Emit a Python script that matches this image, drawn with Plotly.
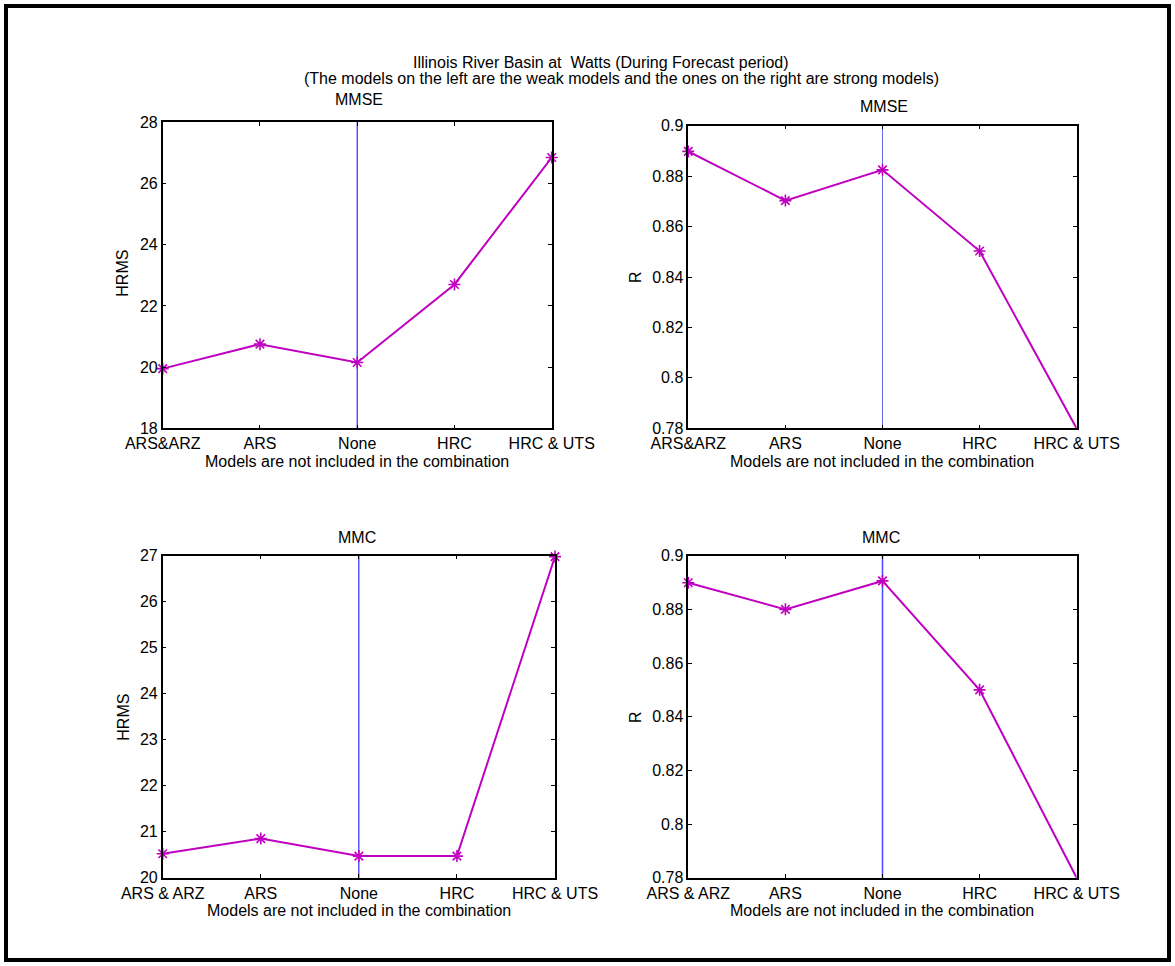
import plotly.graph_objects as go

W, H = 1175, 966

# ---- data ----
cats_top = ["ARS&ARZ", "ARS", "None", "HRC", "HRC & UTS"]
cats_bottom = ["ARS & ARZ", "ARS", "None", "HRC", "HRC & UTS"]
mmse_hrms = [19.95, 20.75, 20.15, 22.70, 26.85]
mmse_r = [0.8898, 0.8703, 0.8825, 0.8503, 0.7799]
mmc_hrms = [20.52, 20.85, 20.47, 20.47, 26.98]
mmc_r = [0.8899, 0.8800, 0.8906, 0.8500, 0.7799]

hrms_top_ticks = [18, 20, 22, 24, 26, 28]
hrms_bottom_ticks = [20, 21, 22, 23, 24, 25, 26, 27]
r_ticks = [0.78, 0.8, 0.82, 0.84, 0.86, 0.88, 0.9]
r_ticktext = ["0.78", "0.8", "0.82", "0.84", "0.86", "0.88", "0.9"]

title1 = "Illinois River Basin at  Watts (During Forecast period)"
title2 = "(The models on the left are the weak models and the ones on the right are strong models)"
xlab = "Models are not included in the combination"

FONT = "Liberation Sans, Arial, Helvetica, sans-serif"
FS = 16
MAG = "#c000c0"

def px(x):
    return x / W

def py(y):
    return 1 - y / H

# panel boxes in pixels: (left, top, right, bottom)
panels = [
    dict(box=(162.7, 122.3, 551.7, 428.3), cats=cats_top, vals=mmse_hrms,
         yr=[18, 28], tv=hrms_top_ticks, tt=[str(t) for t in hrms_top_ticks],
         title="MMSE", tpos=(359, 99), ylab="HRMS", ylpos=(122.7, 273), xlpos=(357, 461),
         vcol="#0000ff", vw=1),
    dict(box=(688.3, 125.7, 1076.7, 428.3), cats=cats_top, vals=mmse_r,
         yr=[0.78, 0.9], tv=r_ticks, tt=r_ticktext,
         title="MMSE", tpos=(884, 107), ylab="R", ylpos=(635, 277), xlpos=(882, 461),
         vcol="#6a6ae6", vw=1),
    dict(box=(162.7, 555.7, 555.0, 877.7), cats=cats_bottom, vals=mmc_hrms,
         yr=[20, 27], tv=hrms_bottom_ticks, tt=[str(t) for t in hrms_bottom_ticks],
         title="MMC", tpos=(357, 537), ylab="HRMS", ylpos=(122.7, 717), xlpos=(359, 910),
         vcol="#0000ff", vw=1),
    dict(box=(688.3, 555.7, 1076.7, 877.7), cats=cats_bottom, vals=mmc_r,
         yr=[0.78, 0.9], tv=r_ticks, tt=r_ticktext,
         title="MMC", tpos=(881, 537), ylab="R", ylpos=(635, 717), xlpos=(882, 910),
         vcol="#4a4aff", vw=1.5),
]

fig = go.Figure()
annotations = []
shapes = []

for i, p in enumerate(panels, start=1):
    l, t, r, b = p["box"]
    xa = "xaxis" if i == 1 else f"xaxis{i}"
    ya = "yaxis" if i == 1 else f"yaxis{i}"
    xref = "x" if i == 1 else f"x{i}"
    yref = "y" if i == 1 else f"y{i}"
    xs = list(range(1, len(p["cats"]) + 1))

    # vertical reference line at "None"
    none_x = p["cats"].index("None") + 1
    shapes.append(dict(type="line", xref=xref, yref=f"{yref} domain",
                       x0=none_x, x1=none_x, y0=0, y1=1,
                       line=dict(color=p["vcol"], width=p["vw"]), layer="below"))

    fig.add_trace(go.Scatter(
        x=xs, y=p["vals"], xaxis=xref, yaxis=yref, mode="lines+markers",
        line=dict(color=MAG, width=2),
        marker=dict(symbol="asterisk-open", size=10, color=MAG,
                    line=dict(color=MAG, width=1.6)),
        cliponaxis=False, showlegend=False, hoverinfo="x+y"))

    axcommon = dict(showline=True, linecolor="black", linewidth=1.5, mirror="ticks",
                    ticks="inside", ticklen=4, tickwidth=1.2, tickcolor="black",
                    showgrid=False, zeroline=False, automargin=False,
                    tickfont=dict(family=FONT, size=FS, color="black"))
    fig.layout[xa] = dict(domain=[px(l), px(r)], range=[1, 5], tickvals=xs,
                          ticktext=p["cats"], anchor=yref, **axcommon)
    fig.layout[ya] = dict(domain=[py(b), py(t)], range=p["yr"], tickvals=p["tv"],
                          ticktext=p["tt"], anchor=xref, **axcommon)

    annotations.append(dict(text=p["title"], x=px(p["tpos"][0]), y=py(p["tpos"][1]),
                            xref="paper", yref="paper", showarrow=False,
                            xanchor="center", yanchor="middle",
                            font=dict(family=FONT, size=FS, color="black")))
    annotations.append(dict(text=p["ylab"], x=px(p["ylpos"][0]), y=py(p["ylpos"][1]),
                            xref="paper", yref="paper", showarrow=False, textangle=-90,
                            xanchor="center", yanchor="middle",
                            font=dict(family=FONT, size=FS, color="black")))
    annotations.append(dict(text=xlab, x=px(p["xlpos"][0]), y=py(p["xlpos"][1]),
                            xref="paper", yref="paper", showarrow=False,
                            xanchor="center", yanchor="middle",
                            font=dict(family=FONT, size=FS, color="black")))

annotations.append(dict(text=title1, x=px(601), y=py(62), xref="paper", yref="paper",
                        showarrow=False, xanchor="center", yanchor="middle",
                        font=dict(family=FONT, size=FS, color="black")))
annotations.append(dict(text=title2, x=px(621), y=py(79), xref="paper", yref="paper",
                        showarrow=False, xanchor="center", yanchor="middle",
                        font=dict(family=FONT, size=FS, color="black")))

# outer figure border
shapes.append(dict(type="rect", xref="paper", yref="paper",
                   x0=px(6), x1=px(1169), y0=py(960), y1=py(6),
                   line=dict(color="black", width=4), layer="above"))

fig.update_layout(width=W, height=H,
                  margin=dict(l=0, r=0, t=0, b=0, pad=0, autoexpand=False),
                  paper_bgcolor="white", plot_bgcolor="white",
                  annotations=annotations, shapes=shapes,
                  font=dict(family=FONT, size=FS, color="black"))

fig.write_html("out.html", config={"displayModeBar": False},
               post_script="document.body.style.margin='0';document.body.style.overflow='hidden';")
